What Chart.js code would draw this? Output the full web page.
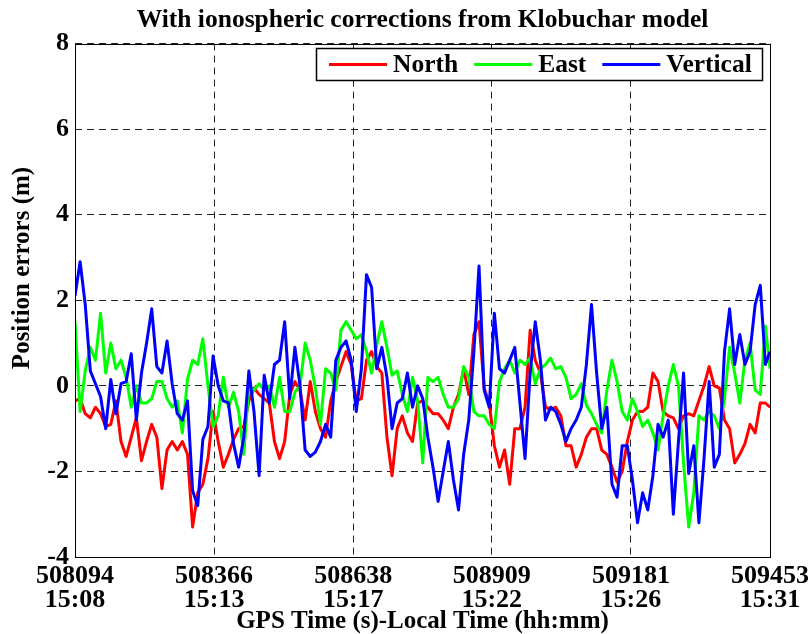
<!DOCTYPE html>
<html>
<head>
<meta charset="utf-8">
<script src="https://cdn.jsdelivr.net/npm/chart.js@4.4.1/dist/chart.umd.min.js"></script>
<style>
  html, body { margin: 0; padding: 0; background: #fff; }
  #wrap { width: 811px; height: 634px; }
</style>
</head>
<body>
<div id="wrap"><canvas id="errChart" width="811" height="634"></canvas></div>
<script>
// epochs every 10 s from the first GPS second to the last
const startEpoch = 508094;
const endEpoch = 509453;
const epochStep = 10;

// position errors (m)
const north = [
  -0.35, -0.3, -0.65, -0.75, -0.5, -0.65, -0.95, -0.9, -0.35, -1.3, -1.65, -1.2, -0.75, -1.75, -1.3, -0.9,
  -1.2, -2.4, -1.5, -1.3, -1.5, -1.3, -1.6, -3.3, -2.5, -2.3, -1.7, -0.6, -1.3, -1.9, -1.6, -1.25, -1.0,
  -0.95, -0.35, -0.05, -0.2, -0.3, -0.4, -1.3, -1.7, -1.3, -0.2, 0.1, -0.1, -0.8, 0.1, -0.6, -1.0,
  -1.2, -0.35, 0.1, 0.45, 0.8, 0.5, -0.35, -0.3, 0.6, 0.8, 0.45, 0.3,
  -1.2, -2.1, -1.0, -0.7, -1.1, -1.3, -0.4, -0.35, -0.5, -0.65, -0.65, -0.8, -1.0, -0.5, -0.2, 0.4,
  -0.2, 1.2, 1.5, -0.05, -0.4, -1.4, -1.9, -1.5, -2.3, -1.0, -1.0, -0.5, 1.3, 0.6, 0.3, -0.5, -0.55, -0.5,
  -0.7, -1.4, -1.4, -1.9, -1.6, -1.2, -1.0, -1.0, -1.5, -1.6, -1.9, -2.25, -2.0, -1.3, -0.8, -0.6,
  -0.6, -0.5, 0.3, 0.1, -0.6, -0.7, -0.75, -1.0, -0.7, -0.65, -0.7, -0.35, 0.0, 0.45, 0.0, -0.05,
  -0.8, -1.0, -1.8, -1.6, -1.35, -0.9, -1.1, -0.4, -0.4, -0.5
];
const east = [
  1.5, -0.6, 0.35, 0.9, 0.6, 1.7, 0.3, 1.0, 0.4, 0.6, 0.2, -0.5, 0.0, -0.4, -0.4, -0.3,
  0.1, 0.1, -0.3, -0.5, -0.35, -1.1, 0.15, 0.6, 0.5, 1.1, 0.0, -0.95, -0.7, 0.2, -0.5, -0.15, -0.6,
  -1.6, 0.0, -0.1, 0.05, -0.1, 0.0, -0.5, 0.2, -0.6, -0.6, -0.15, 0.0, 1.0, 0.6, -0.05, -0.9,
  0.4, 0.3, -0.1, 1.3, 1.5, 1.3, 1.1, 1.2, 0.8, 0.3, 0.95, 1.5,
  0.9, 0.25, 0.35, -0.2, -0.6, 0.2, -0.35, -1.8, 0.2, 0.1, 0.2, -0.2, -0.5, -0.5, -0.3, 0.45,
  0.2, -0.6, -0.7, -0.7, -0.9, -1.0, 0.1, 0.4, 0.6, 0.3, 0.6, 0.5, 0.65, 0.05, 0.4, 0.5, 0.65, 0.4,
  0.45, 0.2, -0.3, -0.2, 0.05, -0.45, -0.65, -0.9, -1.1, -0.1, 0.6, 0.1, -0.6, -0.8, -0.3, -0.6,
  -0.95, -0.8, -1.1, -1.5, -0.7, 0.0, 0.5, 0.0, -1.8, -3.3, -2.5, -0.7, -0.8, -0.6, -0.7, -1.0,
  -0.3, 0.9, 0.3, -0.4, 0.6, 1.0, -0.1, -0.2, 1.4, 0.4
];
const vertical = [
  2.1, 2.9, 1.9, 0.35, 0.05, -0.25, -1.0, 0.15, -0.65, 0.05, 0.1, 0.75, -0.8, 0.3, 1.0, 1.8,
  0.45, 0.3, 1.05, 0.05, -0.65, -0.8, -0.35, -2.45, -2.8, -1.25, -0.95, 0.7, 0.0, -0.35, -0.4, -1.35, -1.9,
  -1.2, 0.35, -0.6, -2.1, 0.25, -0.4, 0.5, 0.6, 1.5, -0.3, 0.9, 0.0, -1.5, -1.65, -1.55, -1.3,
  -0.9, -1.2, 0.6, 0.9, 1.05, 0.6, -0.6, 0.4, 2.6, 2.3, 0.4, 0.9,
  0.2, -1.0, -0.4, -0.3, 0.3, -0.5, 0.0, -0.3, -1.2, -1.9, -2.7, -2.0, -1.3, -2.2, -2.9, -1.6,
  -0.8, 0.8, 2.8, -0.1, -0.5, 1.7, 0.4, 0.3, 0.6, 0.9, -0.4, -1.7, 0.3, 1.5, 0.6, -0.8, -0.5, -0.6,
  -0.9, -1.3, -1.0, -0.8, -0.5, 0.5, 1.9, 0.3, -1.0, -0.5, -2.3, -2.6, -1.4, -1.4, -2.2, -3.2,
  -2.5, -2.9, -2.1, -0.9, -1.2, -0.8, -3.0, -1.3, 0.3, -2.05, -1.4, -3.2, -1.7, 0.1, -1.9, -1.6,
  0.8, 1.8, 0.5, 1.2, 0.5, 0.8, 1.9, 2.35, 0.5, 0.8
];

// axis ticks: GPS seconds with local time underneath
const gpsTicks = [508094, 508366, 508638, 508909, 509181, 509453];
const localTicks = ["15:08", "15:13", "15:17", "15:22", "15:26", "15:31"];
const yTicks = [-4, -2, 0, 2, 4, 6, 8];

const seriesNames = ["North", "East", "Vertical"];
const seriesColors = ["#ff0000", "#00ff00", "#0000ff"];

const epochs = north.map((_, i) => Math.min(startEpoch + i * epochStep, endEpoch));
const toPoints = (vals) => vals.map((v, i) => ({ x: epochs[i], y: v }));

const serif = '"Liberation Serif", "Times New Roman", serif';
Chart.defaults.color = "#000";
Chart.defaults.font.family = serif;
Chart.defaults.font.weight = "bold";

// box round the axes, legend inside the top right corner, rotated y label
const axesDecor = {
  id: "axesDecor",
  afterDatasetsDraw(chart) {
    const { ctx, chartArea: a } = chart;
    ctx.save();
    ctx.strokeStyle = "#000";
    ctx.lineWidth = 1;
    ctx.strokeRect(Math.round(a.left) + 0.5, Math.round(a.top) + 0.5,
      Math.round(a.right - a.left), Math.round(a.bottom - a.top));
    ctx.restore();
  },
  afterDraw(chart) {
    const { ctx, chartArea: a } = chart;
    const sets = chart.data.datasets;

    ctx.save();
    ctx.font = "bold 25.5px " + serif;
    const lineLen = 58, padL = 13, padR = 10, gapText = 6, gapItem = 16;
    let w = padL + padR;
    sets.forEach((ds, i) => {
      w += lineLen + gapText + ctx.measureText(ds.label).width;
      if (i < sets.length - 1) w += gapItem;
    });
    w = Math.round(w);
    const h = 32;
    const bx = Math.round(a.right - 8 - w);
    const by = Math.round(a.top + 4);
    ctx.fillStyle = "#fff";
    ctx.fillRect(bx, by, w, h);
    ctx.strokeStyle = "#000";
    ctx.lineWidth = 1.5;
    ctx.strokeRect(bx + 0.5, by + 0.5, w, h);

    let x = bx + padL;
    const cy = by + h / 2 + 0.5;
    ctx.textBaseline = "middle";
    ctx.textAlign = "left";
    sets.forEach((ds) => {
      ctx.strokeStyle = ds.borderColor;
      ctx.lineWidth = 3;
      ctx.beginPath();
      ctx.moveTo(x, cy);
      ctx.lineTo(x + lineLen, cy);
      ctx.stroke();
      x += lineLen + gapText;
      ctx.fillStyle = "#000";
      ctx.fillText(ds.label, x, cy + 1);
      x += ctx.measureText(ds.label).width + gapItem;
    });

    ctx.font = "bold 25px " + serif;
    ctx.translate(23, 268);
    ctx.rotate(-Math.PI / 2);
    ctx.textAlign = "center";
    ctx.fillText("Position errors (m)", 0, 0);
    ctx.restore();
  }
};

new Chart(document.getElementById("errChart"), {
  type: "line",
  data: {
    datasets: seriesNames.map((name, i) => ({
      label: name,
      data: toPoints([north, east, vertical][i]),
      borderColor: seriesColors[i],
      borderWidth: 3,
      borderJoinStyle: "round",
      pointRadius: 0,
      tension: 0,
      fill: false,
      order: 3 - i
    }))
  },
  options: {
    responsive: false,
    animation: false,
    layout: { padding: { left: 0, right: 41, top: 0, bottom: 0 } },
    plugins: {
      legend: { display: false },
      tooltip: { enabled: false },
      title: {
        display: true,
        fullSize: false,
        text: "With ionospheric corrections from Klobuchar model",
        font: { size: 25.5, weight: "bold", lineHeight: 1.2 },
        padding: { top: 5, bottom: 8 }
      }
    },
    scales: {
      x: {
        type: "linear",
        min: startEpoch,
        max: endEpoch,
        afterBuildTicks: (scale) => { scale.ticks = gpsTicks.map((v) => ({ value: v })); },
        afterFit: (scale) => {
          scale.height = 77;
          scale.paddingLeft = 0;
          scale.paddingRight = 0;
        },
        ticks: {
          autoSkip: false,
          maxRotation: 0,
          padding: 7,
          font: { size: 26, lineHeight: 0.92 },
          callback: (value, index) => [String(gpsTicks[index]), localTicks[index]]
        },
        grid: { color: "#222", lineWidth: 1, drawTicks: false },
        border: { display: false, dash: [7, 5] },
        title: {
          display: true,
          text: "GPS Time (s)-Local Time (hh:mm)",
          font: { size: 25, lineHeight: 1.0 },
          padding: { top: 0, bottom: 0 }
        }
      },
      y: {
        min: -4,
        max: 8,
        afterBuildTicks: (scale) => { scale.ticks = yTicks.map((v) => ({ value: v })); },
        afterFit: (scale) => { scale.width = 75; },
        ticks: {
          padding: 6,
          font: { size: 26 },
          callback: (value) => String(value)
        },
        grid: { color: "#222", lineWidth: 1, drawTicks: false },
        border: { display: false, dash: [7, 5] }
      }
    }
  },
  plugins: [axesDecor]
});
</script>
</body>
</html>
